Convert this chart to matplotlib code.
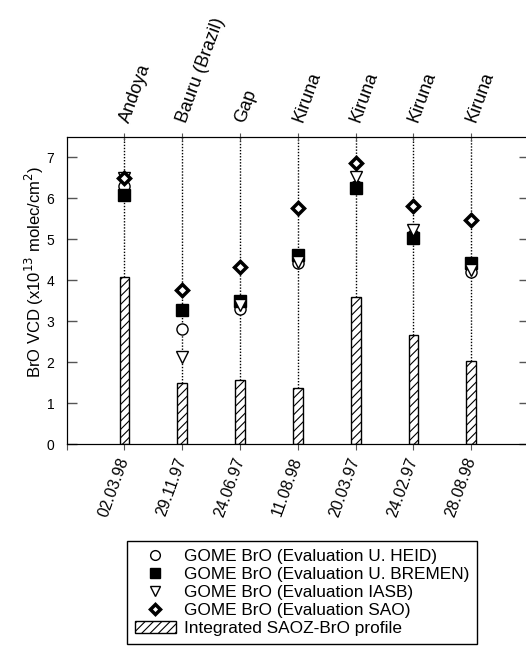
import matplotlib
matplotlib.use('Agg')
import matplotlib.pyplot as plt
from matplotlib.patches import Patch
from matplotlib.lines import Line2D

plt.rcParams['font.family'] = ['Liberation Sans', 'DejaVu Sans']
plt.rcParams['hatch.linewidth'] = 0.8

# data
stations = ['Andoya', 'Bauru (Brazil)', 'Gap', 'Kiruna', 'Kiruna', 'Kiruna', 'Kiruna']
dates = ['02.03.98', '29.11.97', '24.06.97', '11.08.98', '20.03.97', '24.02.97', '28.08.98']
saoz = [4.09, 1.48, 1.56, 1.36, 3.60, 2.66, 2.04]
heid = [6.30, 2.80, 3.29, 4.42, 6.30, 5.10, 4.20]
bremen = [6.07, 3.28, 3.50, 4.62, 6.25, 5.04, 4.42]
iasb = [6.50, 2.13, 3.40, 4.45, 6.52, 5.23, 4.25]
sao = [6.50, 3.77, 4.33, 5.76, 6.86, 5.82, 5.46]

x = list(range(1, len(dates) + 1))

fig = plt.figure(figsize=(5.26, 6.55), dpi=100)
ax = fig.add_axes([0.1268, 0.322, 0.879, 0.469])

ax.bar(x, saoz, width=0.17, color='white', edgecolor='black', hatch='////', linewidth=1, zorder=2)
ax.vlines(x, saoz, 7.5, colors='black', linestyles=(0, (1, 1.2)), linewidth=1, zorder=1)

ax.plot(x, heid, 'o', ms=8, mfc='white', mec='black', mew=1, zorder=3)
ax.plot(x, bremen, 's', ms=8, mfc='black', mec='black', mew=1, zorder=4)
ax.plot(x, iasb, 'v', ms=8, mfc='white', mec='black', mew=1, zorder=5)
ax.plot(x, sao, 'D', ms=6, mfc='white', mec='black', mew=2.5, zorder=6)

ax.set_xlim(0, 8)
ax.set_ylim(0, 7.5)
ax.set_yticks(range(0, 8))
ax.tick_params(axis='y', direction='in', length=7, width=1, labelsize=10, pad=9,
               right=True, color='#555555')
ax.set_xticks(range(0, 9))
ax.set_xticklabels([''] + dates + [''], rotation=70, ha='right', va='center',
                   rotation_mode='anchor', fontsize=11.5)
ax.tick_params(axis='x', direction='out', length=4, pad=6, color='#555555')
ax.set_ylabel('BrO VCD (x10$^{13}$ molec/cm$^2$)', fontsize=12)
ax.yaxis.set_label_coords(-0.045, 0.56)
ax.spines['right'].set_visible(False)

top = ax.twiny()
top.set_xlim(ax.get_xlim())
top.set_xticks(x)
top.set_xticklabels(stations, rotation=70, ha='left', va='center',
                    rotation_mode='anchor', fontsize=13)
top.tick_params(axis='x', direction='inout', length=6, pad=8, color='#555555')
top.spines['right'].set_visible(False)

handles = [
    Line2D([], [], ls='', marker='o', ms=7, mfc='white', mec='black'),
    Line2D([], [], ls='', marker='s', ms=7, mfc='black', mec='black'),
    Line2D([], [], ls='', marker='v', ms=7, mfc='white', mec='black'),
    Line2D([], [], ls='', marker='D', ms=5.5, mfc='white', mec='black', mew=2.5),
    Patch(facecolor='white', edgecolor='black', hatch='////'),
]
labels = ['GOME BrO (Evaluation U. HEID)', 'GOME BrO (Evaluation U. BREMEN)',
          'GOME BrO (Evaluation IASB)', 'GOME BrO (Evaluation SAO)',
          'Integrated SAOZ-BrO profile']
leg = fig.legend(handles, labels, loc='upper left', bbox_to_anchor=(0.241, 0.174),
                 fontsize=12.4, fancybox=False, edgecolor='black', framealpha=1,
                 labelspacing=0.17, handlelength=2.4, handletextpad=0.45, borderpad=0.45,
                 borderaxespad=0)
leg.get_frame().set_linewidth(1)

plt.savefig('out.png', dpi=100)
